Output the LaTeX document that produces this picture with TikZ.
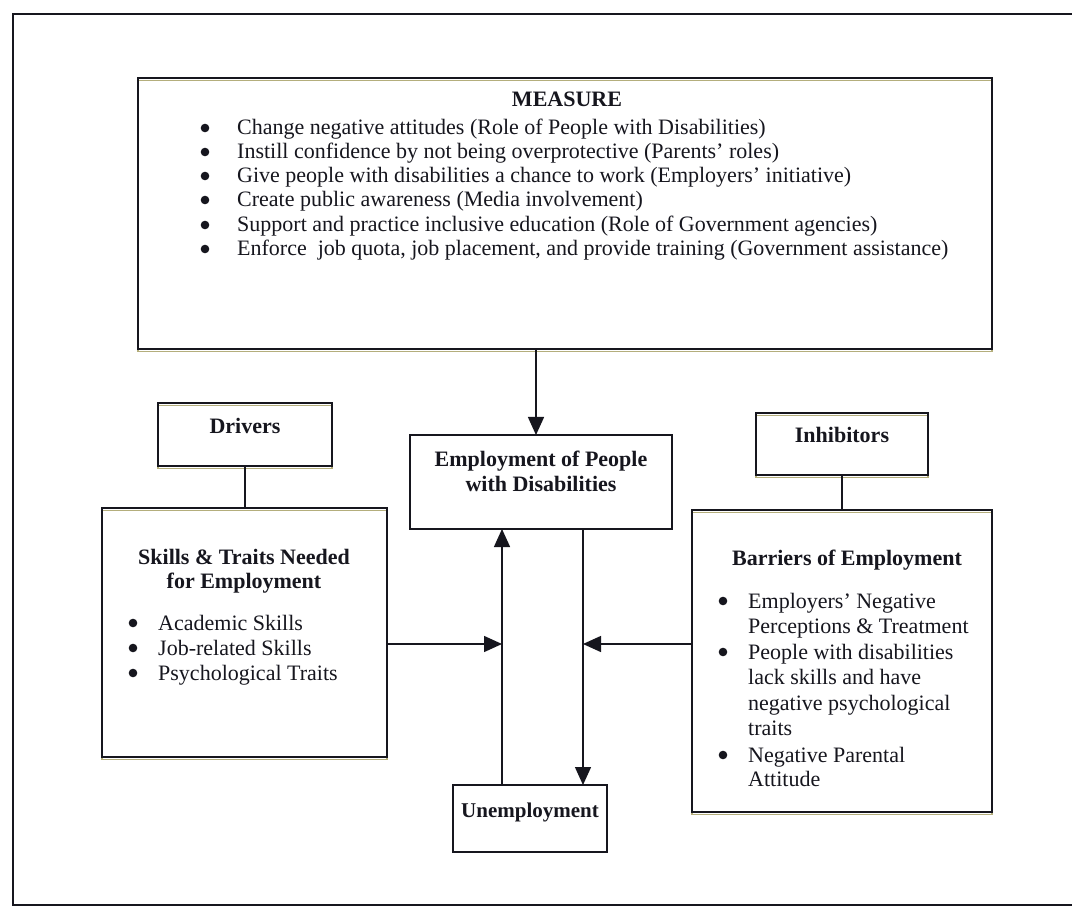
\documentclass[tikz,border=0pt]{standalone}
\usepackage{fontspec}
\setmainfont{Liberation Serif}
\usetikzlibrary{arrows.meta}
\definecolor{ink}{HTML}{16161E}
\definecolor{shade}{HTML}{B4AE7C}
\begin{document}
\begin{tikzpicture}[x=1pt,y=-1pt,
 box/.style={draw=ink,line width=1.4pt,inner sep=0pt,outer sep=0pt,anchor=north west},
 sbox/.style={box,preaction={draw=shade,line width=1.4pt,transform canvas={yshift=-2.5pt}}},
 txt/.style={inner sep=0pt,anchor=base west,font=\fontsize{22}{24}\selectfont,text=ink},
 ttl/.style={inner sep=0pt,anchor=base,font=\fontsize{22}{24}\selectfont\bfseries,text=ink},
 arr/.style={draw=ink,line width=1.4pt,-{Triangle[length=18pt,width=16pt]}},
 conn/.style={draw=ink,line width=1.4pt},
 dot/.style={fill=ink}]
\useasboundingbox (0,0) rectangle (1072,909);
\fill[white] (0,0) rectangle (1072,909);
% outer frame
\draw[draw=ink,line width=1.6pt] (1072,14) -- (13,14) -- (13,905) -- (1072,905);
% boxes
\node[sbox,minimum width=854pt,minimum height=271pt] (measure) at (138,78) {};
\node[box,minimum width=262pt,minimum height=94pt] (emp) at (410,435) {};
\node[sbox,minimum width=174pt,minimum height=63pt] (drv) at (158,403) {};
\node[sbox,minimum width=285pt,minimum height=249pt] (skills) at (102,508) {};
\node[sbox,minimum width=172pt,minimum height=62pt] (inh) at (756,413) {};
\node[sbox,minimum width=300pt,minimum height=302pt] (bar) at (692,510) {};
\node[box,minimum width=154pt,minimum height=67pt] (unemp) at (453,785) {};
% MEASURE
\node[ttl] (mt) at (567,107) {MEASURE};
\node[txt] (m1) at (237,135) {Change negative attitudes (Role of People with Disabilities)};
\node[txt] (m2) at (237,159) {Instill confidence by not being overprotective (Parents' roles)};
\node[txt] (m3) at (237,183) {Give people with disabilities a chance to work (Employers' initiative)};
\node[txt] (m4) at (237,207) {Create public awareness (Media involvement)};
\node[txt] (m5) at (237,232) {Support and practice inclusive education (Role of Government agencies)};
\node[txt] (m6) at (237,256) {Enforce\ \ job quota, job placement, and provide training (Government assistance)};
\foreach \y in {135,159,183,207,232,256} \fill[dot] (205,\y-7) circle (4.3);
% Employment
\node[ttl] (e1) at (541,467) {Employment of People};
\node[ttl] (e2) at (541,491) {with Disabilities};
% Drivers / Inhibitors
\node[ttl] (dt) at (245,434) {Drivers};
\node[ttl] (it) at (842,443) {Inhibitors};
% Skills
\node[ttl] (s1) at (244,564) {Skills \& Traits Needed};
\node[ttl] (s2) at (244,588) {for Employment};
\node[txt] (s3) at (158,630) {Academic Skills};
\node[txt] (s4) at (158,655) {Job-related Skills};
\node[txt] (s5) at (158,680) {Psychological Traits};
\foreach \y in {630,655,680} \fill[dot] (133,\y-7) circle (4.3);
% Barriers
\node[ttl] (b0) at (847,565) {Barriers of Employment};
\node[txt] (b1) at (748,608) {Employers' Negative};
\node[txt] (b2) at (748,633) {Perceptions \& Treatment};
\node[txt] (b3) at (748,659) {People with disabilities};
\node[txt] (b4) at (748,684) {lack skills and have};
\node[txt] (b5) at (748,710) {negative psychological};
\node[txt] (b6) at (748,735) {traits};
\node[txt] (b7) at (748,762) {Negative Parental};
\node[txt] (b8) at (748,786) {Attitude};
\foreach \y in {608,659,762} \fill[dot] (723,\y-7) circle (4.3);
% Unemployment
\node[ttl,font=\fontsize{21}{24}\selectfont\bfseries] (ut) at (530,817) {Unemployment};
% connectors
\draw[arr] (536,0 |- measure.south) -- (536,0 |- emp.north);
\draw[conn] (drv.south) -- (drv.south |- skills.north);
\draw[conn] (inh.south) -- (inh.south |- bar.north);
\draw[arr] (502,0 |- unemp.north) -- (502,0 |- emp.south);
\draw[arr] (583,0 |- emp.south) -- (583,0 |- unemp.north);
\draw[arr] (skills.east |- 0,644) -- (502,644);
\draw[arr] (bar.west |- 0,644) -- (583,644);
\end{tikzpicture}
\end{document}
